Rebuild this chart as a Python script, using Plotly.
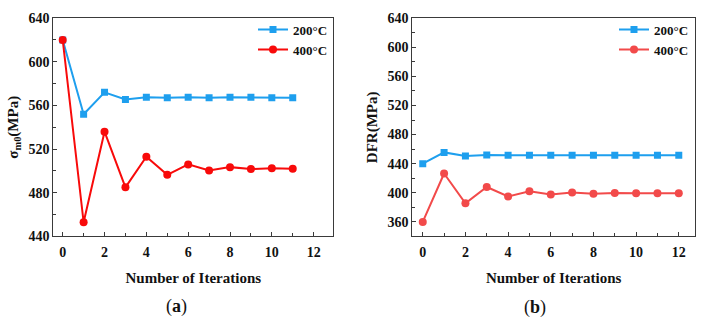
import plotly.graph_objects as go

iters_a = list(range(12))
sigma_200 = [620, 552, 572, 565.5, 567.5, 567, 567.5, 567, 567.5, 567.5, 567, 567]
sigma_400 = [620, 453, 536, 485, 513, 496.5, 506, 500.5, 503.5, 501.8, 502.5, 502]

iters_b = list(range(13))
dfr_200 = [440, 455.5, 450.7, 452, 451.6, 451.6, 451.6, 451.6, 451.6, 451.6, 451.6, 451.6, 451.6]
dfr_400 = [360, 426.5, 385.5, 408, 395, 402, 397.5, 400.5, 398.5, 399.7, 399.3, 399.3, 399.3]

series_names = ["200°C", "400°C"]
yticks_a = [440, 480, 520, 560, 600, 640]
yticks_b = [360, 400, 440, 480, 520, 560, 600, 640]
xticks = [0, 2, 4, 6, 8, 10, 12]

W, H = 705, 326
FONT = "Liberation Serif"
BLUE = "#1E9FEE"
RED_A = "#F80A0A"
RED_B = "#F24A4A"
AX = "#3a3a3a"

def px(x):
    return x / W

def py(y):
    return 1 - y / H

fig = go.Figure()
def add(xs, ys, name, color, symbol, size, xa, ya, leg):
    fig.add_trace(go.Scatter(x=xs, y=ys, name=f"<b>{name}</b>", mode="lines+markers",
                             line=dict(color=color, width=2), marker=dict(symbol=symbol, size=size, color=color),
                             xaxis=xa, yaxis=ya, legend=leg))

add(iters_a, sigma_200, series_names[0], BLUE, "square", 7, "x", "y", "legend")
add(iters_a, sigma_400, series_names[1], RED_A, "circle", 8, "x", "y", "legend")
add(iters_b, dfr_200, series_names[0], BLUE, "square", 7, "x2", "y2", "legend2")
add(iters_b, dfr_400, series_names[1], RED_B, "circle", 8, "x2", "y2", "legend2")

tickfont = dict(family=FONT, size=14, color="#111")
titlefont = dict(family=FONT, size=15, color="#111")

def xaxis(domain, rng, anchor):
    return dict(domain=domain, range=rng, anchor=anchor, tickvals=xticks,
                ticktext=[f"<b>{v}</b>" for v in xticks],
                ticks="inside", ticklen=4, tickwidth=1, tickcolor=AX,
                minor=dict(dtick=1, tick0=0, ticks="inside", ticklen=3, tickcolor=AX),
                showline=True, linecolor=AX, linewidth=1, mirror=True,
                showgrid=False, zeroline=False, tickfont=tickfont, ticklabelstandoff=3,
                title=dict(text="<b>Number of Iterations</b>", font=titlefont, standoff=13))

def yaxis(domain, rng, anchor, ticks, title):
    return dict(domain=domain, range=rng, anchor=anchor, tickvals=ticks,
                ticktext=[f"<b>{v}</b>" for v in ticks],
                ticks="inside", ticklen=4, tickwidth=1, tickcolor=AX,
                minor=dict(dtick=20, tick0=0, ticks="inside", ticklen=3, tickcolor=AX),
                showline=True, linecolor=AX, linewidth=1, mirror=True,
                showgrid=False, zeroline=False, tickfont=tickfont,
                title=dict(text=title, font=titlefont, standoff=6))

ydom = [py(240.5), py(11.7)]
legfont = dict(family=FONT, size=13, color="#111")
fig.update_layout(
    width=W, height=H, margin=dict(l=0, r=0, t=0, b=0),
    paper_bgcolor="white", plot_bgcolor="white",
    xaxis=xaxis([px(53.3), px(333.3)], [-0.45, 12.94], "y"),
    yaxis=yaxis(ydom, [440, 640], "x", yticks_a, "<b>σ<sub>m0</sub>(MPa)</b>"),
    xaxis2=xaxis([px(412.3), px(695)], [-0.49, 12.76], "y2"),
    yaxis2=yaxis(ydom, [340, 640], "x2", yticks_b, "<b>DFR(MPa)</b>"),
    legend=dict(x=px(253), y=py(8), xanchor="left", yanchor="top", bgcolor="rgba(0,0,0,0)",
                font=legfont, tracegroupgap=0, itemwidth=30),
    legend2=dict(x=px(614), y=py(8), xanchor="left", yanchor="top", bgcolor="rgba(0,0,0,0)",
                 font=legfont, tracegroupgap=0, itemwidth=30),
    showlegend=True,
    annotations=[
        dict(text="(<b>a</b>)", x=px(177), y=py(314), xref="paper", yref="paper",
             xanchor="center", yanchor="middle",
             showarrow=False, font=dict(family=FONT, size=18, color="#111")),
        dict(text="(<b>b</b>)", x=px(535), y=py(315), xref="paper", yref="paper",
             xanchor="center", yanchor="middle",
             showarrow=False, font=dict(family=FONT, size=18, color="#111")),
    ],
)
fig.write_html("out.html")
